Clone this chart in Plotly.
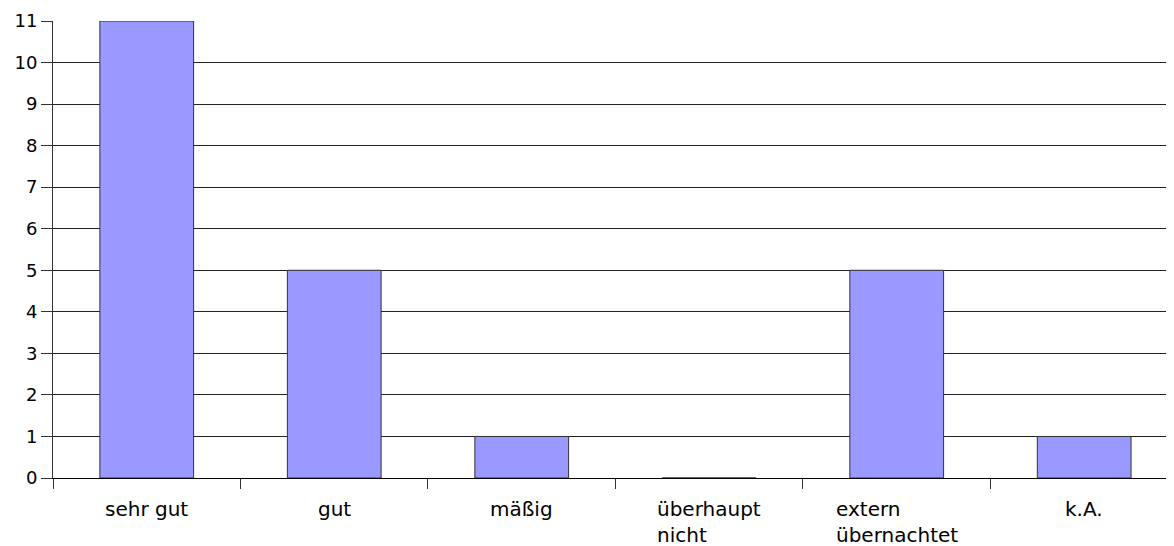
import plotly.graph_objects as go

categories = ["sehr gut", "gut", "mäßig", "überhaupt nicht", "extern übernachtet", "k.A."]
label_text = ["sehr gut", "gut", "mäßig", "überhaupt<br>nicht", "extern<br>übernachtet", "k.A."]
counts = [11, 5, 1, 0, 5, 1]
y_ticks = list(range(0, 12))

fig = go.Figure()

fig.add_trace(go.Bar(
    x=categories, y=counts,
    marker=dict(color="#9999ff", line=dict(color="#333333", width=1)),
    width=0.5,
))

# category labels as annotations so the two-line ones are left aligned
for cat, txt in zip(categories, label_text):
    fig.add_annotation(
        x=cat, xref="x", y=0, yref="paper",
        text=txt, showarrow=False, align="left",
        xanchor="center", yanchor="top", yshift=-17,
        font=dict(size=20),
    )

# page body has an 8px margin, so the figure is a bit smaller than the window
fig.update_layout(
    width=1166, height=538,
    margin=dict(l=45, r=0, t=13, b=68),
    paper_bgcolor="white", plot_bgcolor="white",
    font=dict(family="DejaVu Sans", size=18, color="black"),
    showlegend=False,
)

# the original plot area runs a little past the right edge of the window
fig.update_xaxes(
    type="category", range=[-0.5, 5.479],
    tickson="boundaries", ticks="outside", ticklen=10, tickcolor="#333333",
    showticklabels=False,
    showgrid=False, showline=True, linecolor="black", linewidth=1,
)

fig.update_yaxes(
    range=[0, 11], tickvals=y_ticks,
    ticks="outside", ticklen=11, tickcolor="#333333",
    showgrid=True, gridcolor="#222222", gridwidth=1,
    showline=True, linecolor="#333333", linewidth=1,
    zeroline=False,
)

fig.write_html("out.html")
